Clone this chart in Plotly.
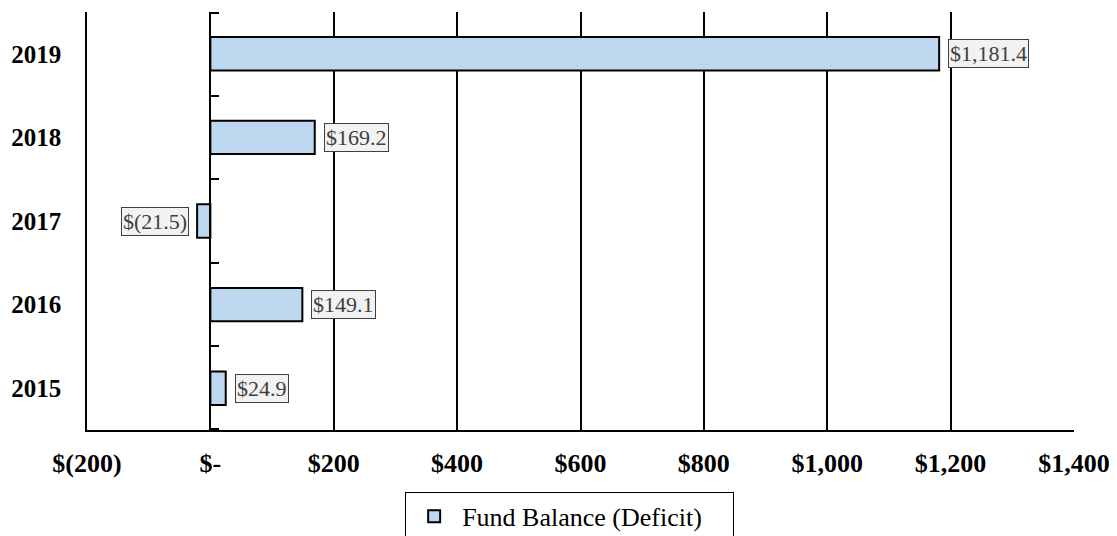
import plotly.graph_objects as go

years = ["2015", "2016", "2017", "2018", "2019"]
fund_balance = [24.9, 149.1, -21.5, 169.2, 1181.4]
series_name = "Fund Balance (Deficit)"
x_tickvals = [-200, 0, 200, 400, 600, 800, 1000, 1200, 1400]
x_ticktext = ["$(200)", "$-", "$200", "$400", "$600", "$800", "$1,000", "$1,200", "$1,400"]

SERIF = "Liberation Serif, Times New Roman, serif"
XMIN, XMAX = -200, 1400


def fmt(v):
    return f"${v:,.1f}" if v >= 0 else f"$({abs(v):,.1f})"


fig = go.Figure()
fig.add_trace(go.Bar(
    x=fund_balance, y=years, orientation="h", name=series_name,
    marker=dict(color="#BDD7EE", line=dict(color="black", width=2)),
    yaxis="y",
))
# helper (invisible) trace so the zero-crossing vertical axis is drawn
fig.add_trace(go.Scatter(
    x=fund_balance, y=years, mode="markers", marker=dict(opacity=0),
    showlegend=False, hoverinfo="skip", yaxis="y2",
))

for i, v in enumerate(fund_balance):
    fig.add_annotation(
        x=v, y=i, xref="x", yref="y", text=fmt(v), showarrow=False,
        xanchor="left" if v >= 0 else "right", xshift=9 if v >= 0 else -8,
        font=dict(family=SERIF, size=22, color="#404040"),
        bgcolor="#F2F2F2", bordercolor="#404040", borderwidth=1, borderpad=1,
    )

zero_pos = (0 - XMIN) / (XMAX - XMIN)

fig.update_layout(
    width=1117, height=536,
    margin=dict(l=87, r=43, t=12, b=106, autoexpand=False),
    plot_bgcolor="white", paper_bgcolor="white",
    bargap=0.6,
    font=dict(family=SERIF, color="black"),
    xaxis=dict(
        range=[XMIN, XMAX], tickmode="array", tickvals=x_tickvals, ticktext=x_ticktext,
        showgrid=True, gridcolor="black", gridwidth=1.5, automargin=False,
        zeroline=False, showline=True, linecolor="black", linewidth=2,
        ticks="", ticklabelstandoff=9,
        tickfont=dict(family=SERIF, size=26, color="black", weight="bold"),
    ),
    yaxis=dict(
        type="category", categoryorder="array", categoryarray=years,
        range=[-0.5, 4.5], showgrid=False, zeroline=False, automargin=False,
        showline=True, linecolor="black", linewidth=1.5,
        ticks="", ticklabelstandoff=19,
        tickfont=dict(family=SERIF, size=25, color="black", weight="bold"),
    ),
    yaxis2=dict(
        type="category", categoryorder="array", categoryarray=years,
        range=[-0.515, 4.515], overlaying="y", anchor="free", position=zero_pos,
        side="left", showgrid=False, zeroline=False, showline=True, automargin=False,
        linecolor="black", linewidth=2, ticks="inside", tickson="boundaries",
        ticklen=8, tickwidth=2, tickcolor="black", showticklabels=False,
    ),
    showlegend=True,
    legend=dict(
        orientation="h", x=0.489, xanchor="center", y=-0.148, yanchor="top",
        bordercolor="black", borderwidth=1, bgcolor="white",
        itemwidth=46, entrywidth=266,
        font=dict(family=SERIF, size=26, color="black"),
    ),
)

fig.write_html("out.html", config={"displayModeBar": False},
               post_script="document.body.style.margin='0';")
